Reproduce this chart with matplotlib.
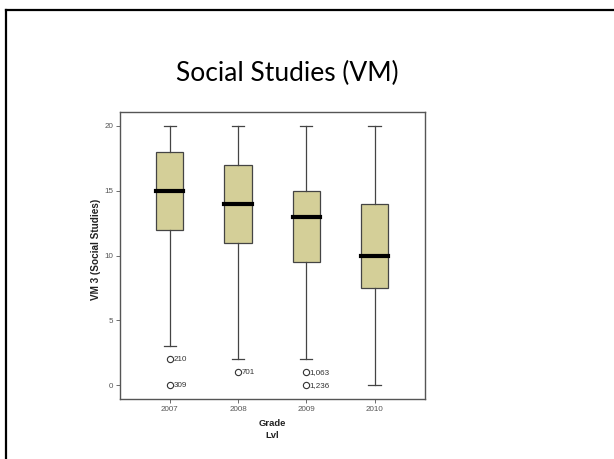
import matplotlib
matplotlib.use("Agg")
import matplotlib.pyplot as plt
from matplotlib.lines import Line2D

# box plot summary per grade year
years = ["2007", "2008", "2009", "2010"]
whislo = [3, 2, 2, 0]
q1 = [12, 11, 9.5, 7.5]
med = [15, 14, 13, 10]
q3 = [18, 17, 15, 14]
whishi = [20, 20, 20, 20]
outliers = [[2, 0], [1], [1, 0], []]
outlier_ids = [["210", "309"], ["701"], ["1,063", "1,236"], []]

fig = plt.figure(figsize=(6.14, 4.59), dpi=100)

# slide frame (left and top edges)
fig.add_artist(Line2D([6 / 614, 6 / 614], [0, 1 - 9.5 / 459], color="black", lw=1.6,
                      transform=fig.transFigure, solid_capstyle="projecting"))
fig.add_artist(Line2D([6 / 614, 1], [1 - 9.5 / 459, 1 - 9.5 / 459], color="black", lw=1.6,
                      transform=fig.transFigure, solid_capstyle="projecting"))

fig.text(287 / 614, 1 - 73 / 459, "Social Studies (VM)", ha="center", va="center",
         fontsize=19, family="Lato")

ax = fig.add_axes([120 / 614, 1 - 399 / 459, 305 / 614, 287 / 459])

stats = []
for i in range(len(years)):
    stats.append({"whislo": whislo[i], "q1": q1[i], "med": med[i], "q3": q3[i],
                  "whishi": whishi[i], "fliers": []})

ax.bxp(stats, positions=range(len(years)), widths=0.4, capwidths=0.18, patch_artist=True,
       boxprops=dict(facecolor="#d4cf98", edgecolor="#444444", lw=0.9),
       whiskerprops=dict(color="#444444", lw=0.9),
       capprops=dict(color="#444444", lw=0.9),
       medianprops=dict(color="black", lw=3, solid_capstyle="projecting"))

for i, (vals, ids) in enumerate(zip(outliers, outlier_ids)):
    for v, lab in zip(vals, ids):
        ax.plot(i, v, "o", mfc="white", mec="#333333", ms=4.5, mew=0.8)
        ax.annotate(lab, (i, v), xytext=(2.6, 0), textcoords="offset points",
                    ha="left", va="center", fontsize=5.8, color="#333333",
                    family="Liberation Sans")

ax.set_xlim(-0.73, 3.74)
ax.set_ylim(-1.05, 21.05)
ax.set_xticks(range(len(years)))
ax.set_xticklabels(years)
ax.set_yticks([0, 5, 10, 15, 20])
for s in ax.spines.values():
    s.set_color("#555555")
    s.set_linewidth(1)
ax.tick_params(labelsize=5.8, colors="#555555", length=3, width=0.6, pad=2)
for t in ax.get_xticklabels() + ax.get_yticklabels():
    t.set_family("Liberation Sans")

ax.set_ylabel("VM 3 (Social Studies)", fontsize=7.2, fontweight="bold",
              family="Liberation Sans", color="#222222")
ax.yaxis.set_label_coords(-0.062, 0.52)
ax.set_xlabel("Grade\nLvl", fontsize=6.8, fontweight="bold", family="Liberation Sans",
              color="#222222", linespacing=1.5)

fig.savefig("out.png", dpi=100)
